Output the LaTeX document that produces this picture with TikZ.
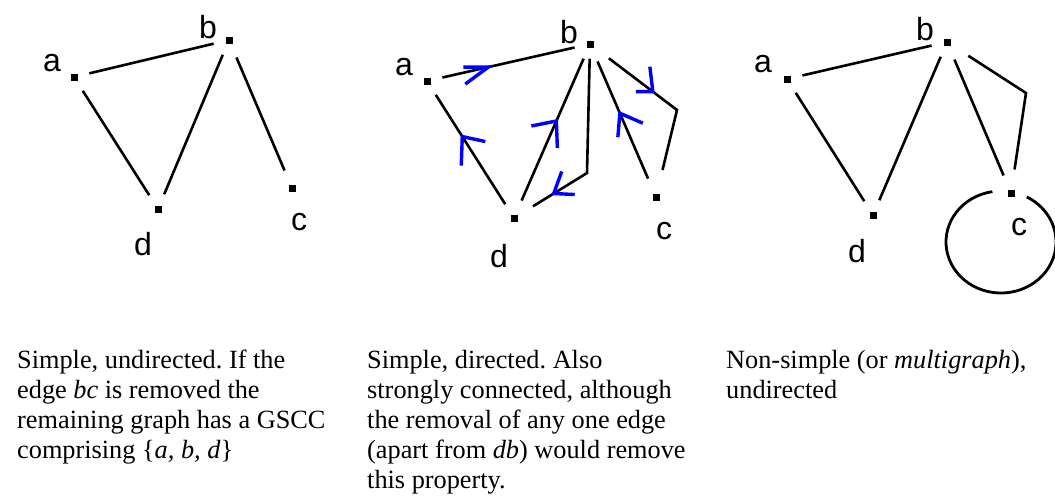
\documentclass[tikz,border=0pt]{standalone}
\usepackage{fontspec}
\setmainfont{Liberation Serif}
\newfontfamily\labelfont{Liberation Sans}
\usetikzlibrary{calc}

\begin{document}
\frenchspacing
\begin{tikzpicture}[x=1pt,y=-1pt,
  vtx/.style={rectangle, fill=black, inner sep=0pt, minimum size=7pt},
  lbl/.style={font=\labelfont\fontsize{32}{32}\selectfont, inner sep=0pt, anchor=base},
  ln/.style={line width=2.6pt, shorten <=12pt, shorten >=12pt},
  barb/.style={draw=blue, line width=3.4pt},
  caption/.style={font=\fontsize{26.3}{30}\selectfont, align=left, inner sep=0pt, anchor=north west}]

\useasboundingbox (0,0) rectangle (1055,496);

% ---------- simple, undirected ----------
\node[vtx] (a1) at (74,77)  {};
\node[vtx] (b1) at (229,40) {};
\node[vtx] (c1) at (292,188) {};
\node[vtx] (d1) at (158,209) {};
\node[lbl] (la1) at (52,71)  {a};
\node[lbl] (lb1) at (208,38) {b};
\node[lbl] (lc1) at (299,230) {c};
\node[lbl] (ld1) at (143,255) {d};
\draw[ln] (a1) -- (b1);
\draw[ln] (a1) -- (d1);
\draw[ln] (d1) -- (b1);
\draw[ln, shorten <=15pt, shorten >=15pt] (b1) -- (c1);

% ---------- simple, directed ----------
\node[vtx] (a2) at (427,81)  {};
\node[vtx] (b2) at (590,44)  {};
\node[vtx] (c2) at (656,197) {};
\node[vtx] (d2) at (514,218) {};
\node[lbl] (la2) at (404,75)  {a};
\node[lbl] (lb2) at (569,43)  {b};
\node[lbl] (lc2) at (664,239) {c};
\node[lbl] (ld2) at (499,267) {d};
\coordinate (m2d) at (587,173);
\coordinate (m2c) at (677,110);
\draw[ln] (a2) -- (b2);
\draw[ln] (d2) -- (a2);
\draw[ln, shorten <=15pt] (d2) -- (b2);
\draw[ln, shorten <=11pt, shorten >=18pt] (b2) -- (m2d) -- (d2);
\draw[ln, shorten <=16pt, shorten >=15pt] (c2) -- (b2);
\draw[ln, shorten <=19pt, shorten >=24pt] (b2) -- (m2c) -- (c2);
% direction marks
\path (a2) -- (b2) coordinate[pos=0.37] (t1);
\path (d2) -- (a2) coordinate[pos=0.6] (t2);
\path (d2) -- (b2) coordinate[pos=0.56] (t3);
\path (m2d) -- (d2) coordinate[pos=0.48] (t4);
\path (c2) -- (b2) coordinate[pos=0.55] (t5);
\path (b2) -- (m2c) coordinate[pos=0.71] (t6);
\draw[barb] ($(t1)+(-25,0)$) -- (t1) -- ($(t1)+(-23,17)$);
\draw[barb] ($(t2)+(-1,29)$) -- (t2) -- ($(t2)+(23,5)$);
\draw[barb] ($(t3)+(-25,5)$) -- (t3) -- ($(t3)+(1,27)$);
\draw[barb] ($(t4)+(8,-22)$) -- (t4) -- ($(t4)+(21,1)$);
\draw[barb] ($(t5)+(-2,24)$) -- (t5) -- ($(t5)+(23,10)$);
\draw[barb] ($(t6)+(-3,-25)$) -- (t6) -- ($(t6)+(-17,0)$);

% ---------- multigraph, undirected ----------
\node[vtx] (a3) at (787,79)  {};
\node[vtx] (b3) at (947,42)  {};
\node[vtx] (c3) at (1011,193) {};
\node[vtx] (d3) at (873,215) {};
\node[lbl] (la3) at (763,72)  {a};
\node[lbl] (lb3) at (925,40)  {b};
\node[lbl] (lc3) at (1019,235) {c};
\node[lbl] (ld3) at (857,262) {d};
\coordinate (m3c) at (1026,93);
\coordinate (o3) at (1001,242);
\draw[ln] (a3) -- (b3);
\draw[ln] (a3) -- (d3);
\draw[ln] (d3) -- (b3);
\draw[ln, shorten <=15pt, shorten >=15pt] (b3) -- (c3);
\draw[ln, shorten <=21pt, shorten >=20pt] (b3) -- (m3c) -- (c3);
\draw[line width=2.8pt] (o3) ++(-99:55 and 51)
  arc[start angle=-99, end angle=-422, x radius=55, y radius=51];

% ---------- captions ----------
\node[caption] (cap1) at (17,350) {Simple, undirected. If the\\
  edge \textit{bc} is removed the\\
  remaining graph has a GSCC\\
  comprising \{\textit{a, b, d}\}};
\node[caption] (cap2) at (367,350) {Simple, directed. Also\\
  strongly connected, although\\
  the removal of any one edge\\
  (apart from \textit{db}) would remove\\
  this property.};
\node[caption] (cap3) at (726,350) {Non-simple (or \textit{multigraph}),\\
  undirected};
\end{tikzpicture}
\end{document}
